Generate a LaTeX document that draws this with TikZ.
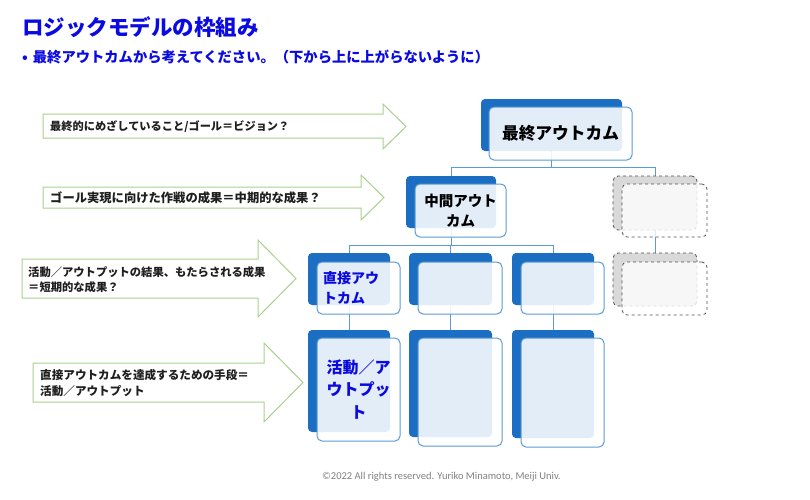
\documentclass[tikz,border=0pt]{standalone}
\usepackage{fontspec}
\newfontfamily\jp{Noto Sans CJK JP}
\newfontfamily\footfont{Carlito}
\pgfdeclarelayer{background}
\pgfsetlayers{background,main}
\definecolor{dkblue}{RGB}{27,110,194}
\definecolor{lnblue}{RGB}{91,155,213}
\definecolor{ttlblue}{RGB}{10,10,225}
\definecolor{arrgreen}{RGB}{169,209,142}
\definecolor{dashgray}{RGB}{80,80,80}
\definecolor{backgray}{RGB}{217,217,217}
\tikzset{
  bk/.style={fill=dkblue, draw=none, rounded corners=4pt, inner sep=0pt},
  fr/.style={draw=lnblue, line width=1pt, fill=white, fill opacity=0.88, text opacity=1, rounded corners=5pt, inner sep=0pt},
  dbk/.style={fill=backgray, draw=dashgray, dashed, line width=0.8pt, rounded corners=5pt, inner sep=0pt},
  dfr/.style={fill=white, fill opacity=0.8, draw=dashgray, dashed, line width=0.8pt, rounded corners=5pt, inner sep=0pt},
  conn/.style={draw=lnblue, line width=1pt},
  arr/.style={draw=arrgreen, line width=1pt, fill=white},
  arrtxt/.style={anchor=west, inner sep=0pt, align=left, text=black!88, font=\jp\bfseries},
}
\begin{document}
\begin{tikzpicture}[x=1pt,y=-1pt]
\useasboundingbox (0,0) rectangle (810,499);
% title
\node[anchor=west, inner sep=0pt, text=ttlblue, font=\jp\bfseries\fontsize{21.5}{24}\selectfont] (title) at (22,27) {ロジックモデルの枠組み};
\node[anchor=west, inner sep=0pt, text=ttlblue, font=\jp\bfseries\fontsize{14.3}{16}\selectfont] (sub) at (22,57) {•\hspace{5pt}最終アウトカムから考えてください。（下から上に上がらないように）};
% arrows
\draw[arr] (43,114) -- (383,114) -- (383,104) -- (406,126.5) -- (383,149) -- (383,138) -- (43,138) -- cycle;
\node[arrtxt, font=\jp\bfseries\fontsize{11.2}{14}\selectfont] (t1) at (50,126.5) {最終的にめざしていること/ゴール＝ビジョン？};
\draw[arr] (43,187) -- (361,187) -- (361,175) -- (384,197.5) -- (361,220) -- (361,208) -- (43,208) -- cycle;
\node[arrtxt, font=\jp\bfseries\fontsize{12.3}{14}\selectfont] (t2) at (50,197.5) {ゴール実現に向けた作戦の成果＝中期的な成果？};
\draw[arr] (22,259) -- (258,259) -- (258,240) -- (296,278.5) -- (258,317) -- (258,298) -- (22,298) -- cycle;
\node[arrtxt, font=\jp\bfseries\fontsize{11.3}{15.6}\selectfont] (t3) at (28,279.5) {活動／アウトプットの結果、もたらされる成果\\＝短期的な成果？};
\draw[arr] (33,363) -- (264,363) -- (264,343) -- (303,382.5) -- (264,422) -- (264,402) -- (33,402) -- cycle;
\node[arrtxt, font=\jp\bfseries\fontsize{11.6}{16}\selectfont] (t4) at (40,383) {直接アウトカムを達成するための手段＝\\活動／アウトプット};
% top box
\node[bk, minimum width=141pt, minimum height=52pt] (tb) at (551.5,125) {};
\node[fr, minimum width=143pt, minimum height=53pt, font=\jp\bfseries\fontsize{16.7}{20}\selectfont] (tf) at (560.5,133.5) {最終アウトカム};
% middle
\node[bk, minimum width=90pt, minimum height=52pt] (mb) at (451,202) {};
\node[fr, minimum width=91pt, minimum height=53pt, align=center, font=\jp\bfseries\fontsize{14.5}{20}\selectfont] (mf) at (460.5,210.5) {中間アウト\\カム};
% dashed
\node[dbk, minimum width=84pt, minimum height=54pt] (db1) at (655,203) {};
\node[dfr, minimum width=85pt, minimum height=53pt] (df1) at (664.5,210.5) {};
\node[dbk, minimum width=84pt, minimum height=53pt] (db2) at (655,279.5) {};
\node[dfr, minimum width=85pt, minimum height=53pt] (df2) at (664.5,288.5) {};
% row 3
\node[bk, minimum width=82pt, minimum height=52pt] (r1) at (349,279) {};
\node[fr, minimum width=83pt, minimum height=52pt, text width=71pt, align=left, text=ttlblue, font=\jp\bfseries\fontsize{14}{20}\selectfont] (s1) at (358.5,288) {直接アウ\\トカム};
\node[bk, minimum width=83pt, minimum height=52pt] (r2) at (450.5,279) {};
\node[fr, minimum width=84pt, minimum height=52pt] (s2) at (460,288) {};
\node[bk, minimum width=82pt, minimum height=52pt] (r3) at (553,279) {};
\node[fr, minimum width=83pt, minimum height=52pt] (s3) at (562.5,288) {};
% row 4
\node[bk, minimum width=82pt, minimum height=102pt] (a1) at (349,381) {};
\node[fr, minimum width=83pt, minimum height=103pt, align=center, text=ttlblue, font=\jp\bfseries\fontsize{16}{22.5}\selectfont] (b1) at (358.5,389.5) {活動／ア\\ウトプッ\\ト};
\node[bk, minimum width=83pt, minimum height=107pt] (a2) at (450.5,383.5) {};
\node[fr, minimum width=84pt, minimum height=108pt] (b2) at (460,392) {};
\node[bk, minimum width=82pt, minimum height=108pt] (a3) at (553,384) {};
\node[fr, minimum width=83pt, minimum height=109pt] (b3) at (562.5,392.5) {};
% connectors
\begin{pgfonlayer}{background}
\draw[conn] (tb.south) -- ++(0,16) coordinate (j1);
\draw[conn] (j1) -| (mb.north);
\draw[conn] (j1) -| (db1.north);
\draw[conn] (mb.south) -- ++(0,17) coordinate (j2);
\draw[conn] (j2) -| (r1.north);
\draw[conn] (j2) -| (r2.north);
\draw[conn] (j2) -| (r3.north);
\draw[conn] (r1.south) -- (a1.north);
\draw[conn] (r2.south) -- (a2.north);
\draw[conn] (r3.south) -- (a3.north);
\draw[conn] (db1.south) -- (db2.north);
\end{pgfonlayer}
% footer
\node[anchor=west, inner sep=0pt, text=black!50, font=\footfont\fontsize{10.5}{12}\selectfont] (foot) at (322,477) {©2022 All rights reserved. Yuriko Minamoto, Meiji Univ.};
\end{tikzpicture}
\end{document}
